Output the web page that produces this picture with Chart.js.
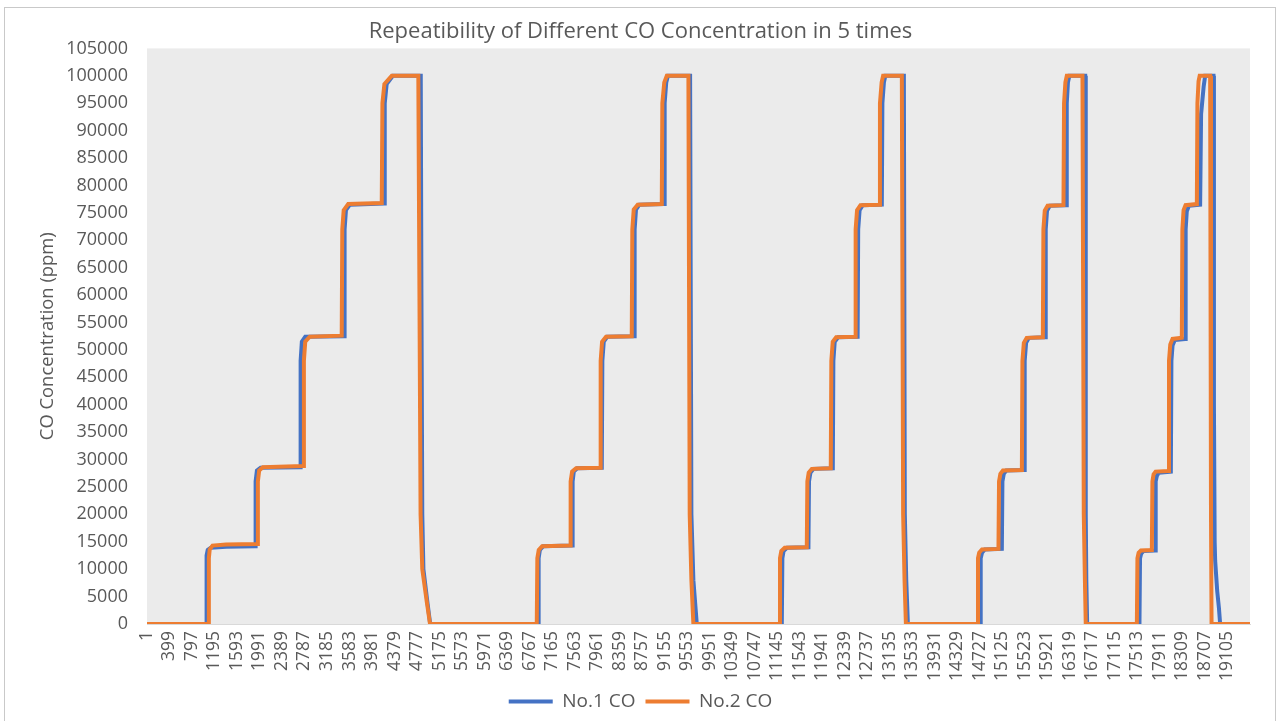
<!DOCTYPE html>
<html lang="en">
<head>
    <meta charset="UTF-8">
    <title>Repeatibility of Different CO Concentration in 5 times</title>
    <script src="https://cdn.jsdelivr.net/npm/chart.js"></script>
    <style>
        body { margin: 0; background: #ffffff; }
        #wrap { width: 1287px; height: 721px; }
    </style>
</head>
<body>
<div id="wrap"><canvas id="chart_co" width="1287" height="721"></canvas></div>
<script>
// x tick labels (sample index, one every 398 samples)
const xTickLabels = [1, 399, 797, 1195, 1593, 1991, 2389, 2787, 3185, 3583, 3981, 4379, 4777, 5175,
    5573, 5971, 6369, 6767, 7165, 7563, 7961, 8359, 8757, 9155, 9553, 9951, 10349, 10747, 11145,
    11543, 11941, 12339, 12737, 13135, 13533, 13931, 14329, 14727, 15125, 15523, 15921, 16319,
    16717, 17115, 17513, 17911, 18309, 18707, 19105];
const lastIndex = 19510;

// No.1 CO - vertices (sample index / ppm)
const no1Index = [1,
    1045, 1055, 1075, 1130, 1400, 1912, 1922, 1945, 2010, 2708, 2718, 2740, 2800,
    3486, 3496, 3520, 3590, 4194, 4206, 4240, 4350, 4843, 4855, 4870, 4890, 4960, 5010,
    6918, 6928, 6950, 7010, 7519, 7529, 7550, 7610, 8045, 8055, 8080, 8140,
    8616, 8626, 8650, 8710, 9147, 9157, 9185, 9215, 9607, 9630, 9665, 9725,
    11229, 11239, 11260, 11320, 11700, 11710, 11735, 11790, 12131, 12141, 12165, 12225,
    12570, 12580, 12605, 12660, 12998, 13008, 13035, 13060, 13388, 13405, 13430, 13459,
    14737, 14747, 14770, 14820, 15121, 15131, 15155, 15200, 15515, 15525, 15550, 15600,
    15887, 15897, 15920, 15970, 16259, 16269, 16290, 16315, 16595, 16605, 16615, 16630,
    17555, 17565, 17585, 17625, 17832, 17842, 17862, 17895, 18110, 18120, 18140, 18180,
    18362, 18372, 18392, 18430, 18628, 18645, 18690, 18717,
    18864, 18872, 18885, 18894, 18930, 18960, 18982, 19510];
const no1Value = [0,
    0, 12500, 13500, 13900, 14100, 14200, 26000, 28000, 28500, 28600, 48000, 51500, 52400,
    52500, 72000, 75500, 76500, 76700, 95000, 98500, 100000, 100000, 60000, 20000, 10000, 4000, 0,
    0, 12000, 13500, 14200, 14300, 26000, 27800, 28400, 28500, 48000, 51500, 52400,
    52500, 72000, 75600, 76500, 76600, 95000, 98800, 100000, 100000, 20000, 8000, 0,
    0, 12000, 13300, 13900, 14000, 26000, 27600, 28300, 28400, 48000, 51500, 52300,
    52400, 72000, 75500, 76400, 76500, 95000, 98800, 100000, 100000, 20000, 8000, 0,
    0, 12000, 13000, 13600, 13700, 26000, 27400, 28000, 28100, 48000, 51300, 52200,
    52300, 72000, 75400, 76300, 76400, 95000, 98800, 100000, 100000, 20000, 8000, 0,
    0, 12000, 12800, 13300, 13400, 26000, 27000, 27600, 27800, 48000, 50800, 51800,
    52000, 72000, 75300, 76300, 76500, 93000, 98000, 100000,
    100000, 40000, 15000, 11500, 6000, 3000, 0, 0];

// No.2 CO
const no2Index = [1,
    1085, 1095, 1110, 1160, 1400, 1952, 1962, 1985, 2050, 2766, 2776, 2800, 2880,
    3445, 3455, 3480, 3560, 4153, 4165, 4200, 4330, 4800, 4840, 4870, 4950, 5007,
    6895, 6905, 6930, 6990, 7484, 7494, 7520, 7590, 8015, 8025, 8050, 8120,
    8575, 8585, 8610, 8680, 9106, 9116, 9150, 9195, 9577, 9600, 9630, 9665,
    11187, 11197, 11220, 11280, 11671, 11681, 11705, 11760, 12095, 12105, 12130, 12190,
    12525, 12535, 12560, 12620, 12955, 12965, 12995, 13021, 13352, 13375, 13400, 13424,
    14689, 14699, 14720, 14770, 15061, 15071, 15095, 15140, 15475, 15485, 15510, 15560,
    15846, 15856, 15880, 15930, 16211, 16221, 16245, 16270, 16547, 16570, 16590, 16605,
    17509, 17519, 17540, 17580, 17774, 17784, 17805, 17840, 18067, 18077, 18100, 18140,
    18304, 18314, 18335, 18370, 18570, 18580, 18600, 18620, 18805, 18820, 18830, 19510];
const no2Value = [0,
    0, 12000, 13600, 14300, 14500, 14600, 26000, 28000, 28600, 28800, 48000, 51500, 52400,
    52600, 72000, 75500, 76600, 76800, 95000, 98500, 100000, 100000, 20000, 10000, 4000, 0,
    0, 12000, 13500, 14200, 14300, 26000, 27800, 28400, 28500, 48000, 51500, 52400,
    52500, 72000, 75600, 76500, 76600, 95000, 98800, 100000, 100000, 20000, 8000, 0,
    0, 12000, 13300, 13900, 14000, 26000, 27600, 28300, 28400, 48000, 51500, 52300,
    52400, 72000, 75500, 76400, 76500, 95000, 98800, 100000, 100000, 20000, 8000, 0,
    0, 12000, 13000, 13600, 13700, 26000, 27400, 28000, 28100, 48000, 51300, 52200,
    52300, 72000, 75400, 76300, 76400, 95000, 98800, 100000, 100000, 20000, 8000, 0,
    0, 12000, 13000, 13400, 13500, 26000, 27300, 27800, 27900, 48000, 51000, 52000,
    52200, 72000, 75500, 76400, 76600, 95000, 99000, 100000, 100000, 20000, 0, 0];

const toPoints = (xs, ys) => xs.map((x, i) => ({ x: x, y: ys[i] }));
const grey = '#595959';
const font = 'Open Sans';

// plot background + outer frame like the excel chart
const frame = {
    id: 'frame',
    beforeDraw(chart) {
        const c = chart.ctx;
        c.save();
        c.strokeStyle = '#c9c9c9';
        c.lineWidth = 1;
        c.strokeRect(4.5, 7.5, 1271, 720);
        c.restore();
    },
    beforeDatasetsDraw(chart) {
        const a = chart.chartArea;
        const c = chart.ctx;
        c.save();
        c.fillStyle = '#ebebeb';
        c.fillRect(a.left, a.top, a.right - a.left, a.bottom - a.top);
        c.restore();
    }
};

const ctx = document.getElementById('chart_co').getContext('2d');
new Chart(ctx, {
    type: 'line',
    data: {
        datasets: [
            {
                label: 'No.1 CO',
                data: toPoints(no1Index, no1Value),
                borderColor: '#4472c4',
                backgroundColor: '#4472c4',
                borderWidth: 4,
                pointRadius: 0,
                order: 2
            },
            {
                label: 'No.2 CO',
                data: toPoints(no2Index, no2Value),
                borderColor: '#ed7d31',
                backgroundColor: '#ed7d31',
                borderWidth: 4,
                pointRadius: 0,
                order: 1
            }
        ]
    },
    options: {
        responsive: false,
        animation: false,
        layout: { padding: { left: 4, right: 10, top: 0, bottom: 0 } },
        plugins: {
            title: {
                display: true,
                text: 'Repeatibility of Different CO Concentration in 5 times',
                color: grey,
                font: { family: font, size: 22, weight: 'normal' },
                padding: { top: 19, bottom: 3 }
            },
            legend: {
                position: 'bottom',
                labels: {
                    color: grey,
                    font: { family: font, size: 19 },
                    boxWidth: 44,
                    boxHeight: 4,
                    padding: 10,
                    generateLabels(chart) {
                        return chart.data.datasets.map((ds, i) => ({
                            text: ds.label,
                            fillStyle: ds.borderColor,
                            strokeStyle: ds.borderColor,
                            lineWidth: 0,
                            fontColor: grey,
                            datasetIndex: i
                        }));
                    }
                }
            },
            tooltip: { enabled: false }
        },
        scales: {
            x: {
                type: 'linear',
                min: 1,
                max: lastIndex,
                afterBuildTicks(scale) {
                    scale.ticks = xTickLabels.map(v => ({ value: v }));
                },
                afterFit(scale) { scale.height = 58; },
                grid: { display: false, drawTicks: false },
                border: { display: true, color: '#d9d9d9', width: 1 },
                ticks: {
                    autoSkip: false,
                    minRotation: 90,
                    maxRotation: 90,
                    padding: 7,
                    color: grey,
                    font: { family: font, size: 17.5 },
                    callback: v => String(v)
                }
            },
            y: {
                min: 0,
                max: 105000,
                afterFit(scale) { scale.width = 143; },
                grid: { display: false, drawTicks: false },
                border: { display: false },
                ticks: {
                    stepSize: 5000,
                    padding: 19,
                    color: grey,
                    font: { family: font, size: 18 },
                    callback: v => String(v)
                },
                title: {
                    display: true,
                    text: 'CO Concentration (ppm)',
                    color: grey,
                    font: { family: font, size: 18.4 },
                    padding: { top: 33, bottom: 0 }
                }
            },
            // empty right-hand spacer so title and legend centre on the whole frame
            spacer: {
                position: 'right',
                min: 0,
                max: 1,
                afterFit(scale) { scale.width = 27; },
                grid: { display: false, drawTicks: false },
                border: { display: false },
                ticks: { display: false }
            }
        }
    },
    plugins: [frame]
});
</script>
</body>
</html>
